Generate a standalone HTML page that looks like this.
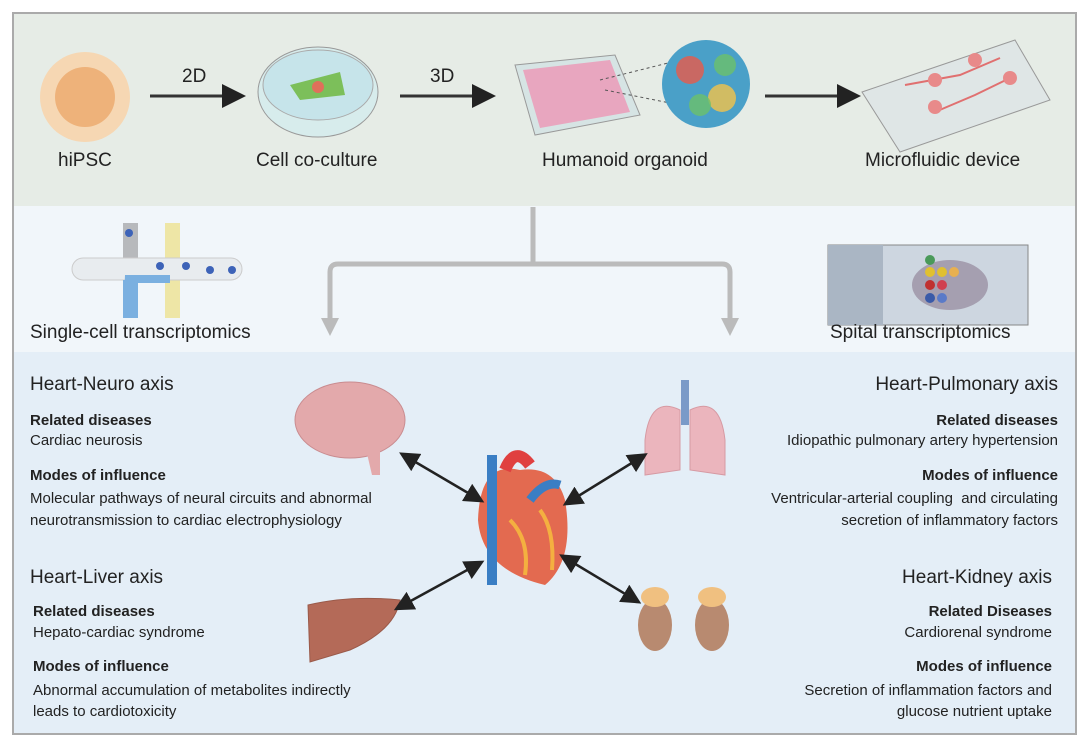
<!DOCTYPE html>
<html><head><meta charset="utf-8"><style>
body{margin:0;width:1080px;height:739px;background:#fff;position:relative;font-family:"Liberation Sans",Arial,sans-serif;color:#222;overflow:hidden}
.t{position:absolute;white-space:nowrap}
.lab{font-size:19px}
.h{font-size:19px}
.b{font-size:15px;font-weight:bold}
.p{font-size:15px}
.r{text-align:right}
</style></head><body>
<div style="position:absolute;left:12px;top:12px;width:1061px;height:719px;border:2px solid #aaa;background:#e4eef7"></div>
<div style="position:absolute;left:14px;top:14px;width:1061px;height:192px;background:#e6ece6"></div>
<div style="position:absolute;left:14px;top:206px;width:1061px;height:146px;background:#f1f6fa"></div>
<svg width="1080" height="739" style="position:absolute;left:0;top:0">
<defs>
<marker id="ah" markerWidth="8" markerHeight="8" refX="6" refY="4" orient="auto"><path d="M0,0L8,4L0,8z" fill="#222"/></marker>
<marker id="as" markerWidth="8" markerHeight="8" refX="2" refY="4" orient="auto-start-reverse"><path d="M0,0L8,4L0,8z" fill="#222"/></marker>
</defs>
<!-- hiPSC -->
<circle cx="85" cy="97" r="45" fill="#f6d7b3"/><circle cx="85" cy="97" r="30" fill="#eeb27a"/>
<!-- arrows -->
<line x1="150" y1="96" x2="240" y2="96" stroke="#333" stroke-width="3" marker-end="url(#ah)"/>
<line x1="400" y1="96" x2="490" y2="96" stroke="#333" stroke-width="3" marker-end="url(#ah)"/>
<line x1="765" y1="96" x2="855" y2="96" stroke="#333" stroke-width="3" marker-end="url(#ah)"/>
<!-- dish -->
<ellipse cx="318" cy="92" rx="60" ry="45" fill="#d7ecec" stroke="#999"/>
<ellipse cx="318" cy="85" rx="55" ry="35" fill="#c6e4ea" stroke="#aaa"/>
<path d="M290,85 L340,72 L345,95 L300,100z" fill="#7cbf5a"/><circle cx="318" cy="87" r="6" fill="#e0705a"/>
<!-- plate -->
<path d="M515,65 L615,55 L640,115 L535,135z" fill="#d6e4e4" stroke="#999"/>
<path d="M523,70 L610,60 L630,112 L540,128z" fill="#e8a6bf"/>
<line x1="600" y1="80" x2="680" y2="60" stroke="#555" stroke-dasharray="3,3"/>
<line x1="605" y1="90" x2="680" y2="105" stroke="#555" stroke-dasharray="3,3"/>
<circle cx="706" cy="84" r="44" fill="#4aa0c8"/>
<circle cx="690" cy="70" r="14" fill="#e85a4a" opacity=".8"/><circle cx="722" cy="98" r="14" fill="#f2c34a" opacity=".8"/><circle cx="700" cy="105" r="11" fill="#6cc06a" opacity=".8"/><circle cx="725" cy="65" r="11" fill="#6cc06a" opacity=".8"/>
<!-- device -->
<path d="M862,92 L1015,40 L1050,100 L900,152z" fill="#dfe6e6" stroke="#999"/>
<path d="M905,85 L960,75 L1000,58 M935,112 L975,95 L1010,78" stroke="#e07070" stroke-width="2" fill="none"/>
<circle cx="935" cy="80" r="7" fill="#e88a8a"/><circle cx="975" cy="60" r="7" fill="#e88a8a"/><circle cx="1010" cy="78" r="7" fill="#e88a8a"/><circle cx="935" cy="107" r="7" fill="#e88a8a"/>
<!-- grey connector -->
<path d="M533,207 V262 M330,320 V272 Q330,264 338,264 H722 Q730,264 730,272 V320" stroke="#bbb" stroke-width="5" fill="none"/>
<path d="M321,318 L339,318 L330,336z M721,318 L739,318 L730,336z" fill="#bbb"/>
<!-- single cell icon -->
<rect x="123" y="223" width="15" height="45" fill="#b7b9bc"/><rect x="165" y="223" width="15" height="95" fill="#eee6a6"/>
<rect x="72" y="258" width="170" height="22" rx="11" fill="#e8ecef" stroke="#ccc"/>
<path d="M123,318 V283 H170 V275 H125" fill="#7bb0e0"/><rect x="123" y="280" width="15" height="38" fill="#7bb0e0"/>
<circle cx="129" cy="233" r="4" fill="#3d63b8"/><circle cx="160" cy="266" r="4" fill="#3d63b8"/><circle cx="186" cy="266" r="4" fill="#3d63b8"/><circle cx="232" cy="270" r="4" fill="#3d63b8"/><circle cx="210" cy="270" r="4" fill="#3d63b8"/>
<!-- spatial slide -->
<rect x="828" y="245" width="200" height="80" fill="#cdd6e0" stroke="#888"/><rect x="828" y="245" width="55" height="80" fill="#aab6c4"/>
<ellipse cx="950" cy="285" rx="38" ry="25" fill="#8a7a90" opacity=".6"/>
<circle cx="930" cy="272" r="5" fill="#e0c030"/><circle cx="942" cy="272" r="5" fill="#e0c030"/><circle cx="954" cy="272" r="5" fill="#e8b050"/><circle cx="930" cy="285" r="5" fill="#c03030"/><circle cx="942" cy="285" r="5" fill="#d04050"/><circle cx="930" cy="298" r="5" fill="#3a5aa8"/><circle cx="942" cy="298" r="5" fill="#5a7ac8"/><circle cx="930" cy="260" r="5" fill="#4a9a5a"/>
<!-- brain -->
<ellipse cx="350" cy="420" rx="55" ry="38" fill="#e3a9ab" stroke="#c98c90"/>
<path d="M365,445 L372,475 L380,475 L380,450z" fill="#e3a9ab"/>
<!-- lungs -->
<rect x="681" y="380" width="8" height="45" fill="#7a9ac8"/>
<path d="M680,410 Q650,395 645,440 L645,475 L680,470z" fill="#ebb5bd" stroke="#d69aa3"/>
<path d="M690,410 Q720,395 725,440 L725,475 L690,470z" fill="#ebb5bd" stroke="#d69aa3"/>
<!-- heart -->
<path d="M520,470 Q480,460 478,520 Q482,570 545,585 Q575,560 565,500 Q555,465 520,470z" fill="#e36a50"/>
<rect x="487" y="455" width="10" height="130" fill="#3a7ec4"/><path d="M505,470 Q515,445 530,465" stroke="#e04040" stroke-width="12" fill="none"/>
<path d="M530,500 Q545,480 560,485" stroke="#3a7ec4" stroke-width="9" fill="none"/>
<path d="M510,520 Q530,540 525,575 M540,510 Q555,530 552,570" stroke="#f4b040" stroke-width="4" fill="none"/>
<!-- liver -->
<path d="M308,605 Q350,595 400,600 Q395,630 350,650 L310,662z" fill="#b46a58" stroke="#9a5a4a"/>
<!-- kidneys -->
<ellipse cx="655" cy="625" rx="17" ry="26" fill="#b88a70"/><ellipse cx="712" cy="625" rx="17" ry="26" fill="#b88a70"/>
<ellipse cx="655" cy="597" rx="14" ry="10" fill="#f0c080"/><ellipse cx="712" cy="597" rx="14" ry="10" fill="#f0c080"/>
<!-- double arrows -->
<g stroke="#222" stroke-width="2.5">
<line x1="412" y1="460" x2="480" y2="500" marker-end="url(#ah)" marker-start="url(#as)"/>
<line x1="635" y1="461" x2="567" y2="503" marker-end="url(#ah)" marker-start="url(#as)"/>
<line x1="407" y1="603" x2="480" y2="563" marker-end="url(#ah)" marker-start="url(#as)"/>
<line x1="572" y1="562" x2="637" y2="601" marker-end="url(#ah)" marker-start="url(#as)"/>
</g>
</svg>
<div class="t lab" style="left:58px;top:150px">hiPSC</div>
<div class="t lab" style="left:182px;top:66px">2D</div>
<div class="t lab" style="left:430px;top:66px">3D</div>
<div class="t lab" style="left:256px;top:150px">Cell co-culture</div>
<div class="t lab" style="left:542px;top:150px">Humanoid organoid</div>
<div class="t lab" style="left:865px;top:150px">Microfluidic device</div>
<div class="t lab" style="left:30px;top:322px">Single-cell transcriptomics</div>
<div class="t lab" style="left:830px;top:322px">Spital transcriptomics</div>

<div class="t h" style="left:30px;top:374px">Heart-Neuro axis</div>
<div class="t b" style="left:30px;top:412px">Related diseases</div>
<div class="t p" style="left:30px;top:432px">Cardiac neurosis</div>
<div class="t b" style="left:30px;top:467px">Modes of influence</div>
<div class="t p" style="left:30px;top:488px;line-height:22px">Molecular pathways of neural circuits and abnormal<br>neurotransmission to cardiac electrophysiology</div>

<div class="t h" style="left:30px;top:567px">Heart-Liver axis</div>
<div class="t b" style="left:33px;top:603px">Related diseases</div>
<div class="t p" style="left:33px;top:624px">Hepato-cardiac syndrome</div>
<div class="t b" style="left:33px;top:658px">Modes of influence</div>
<div class="t p" style="left:33px;top:680px;line-height:21px">Abnormal accumulation of metabolites indirectly<br>leads to cardiotoxicity</div>

<div class="t h r" style="right:22px;top:374px">Heart-Pulmonary axis</div>
<div class="t b r" style="right:22px;top:412px">Related diseases</div>
<div class="t p r" style="right:22px;top:432px">Idiopathic pulmonary artery hypertension</div>
<div class="t b r" style="right:22px;top:467px">Modes of influence</div>
<div class="t p r" style="right:22px;top:488px;line-height:22px">Ventricular-arterial coupling &nbsp;and circulating<br>secretion of inflammatory factors</div>

<div class="t h r" style="right:28px;top:567px">Heart-Kidney axis</div>
<div class="t b r" style="right:28px;top:603px">Related Diseases</div>
<div class="t p r" style="right:28px;top:624px">Cardiorenal syndrome</div>
<div class="t b r" style="right:28px;top:658px">Modes of influence</div>
<div class="t p r" style="right:28px;top:680px;line-height:21px">Secretion of inflammation factors and<br>glucose nutrient uptake</div>
</body></html>
